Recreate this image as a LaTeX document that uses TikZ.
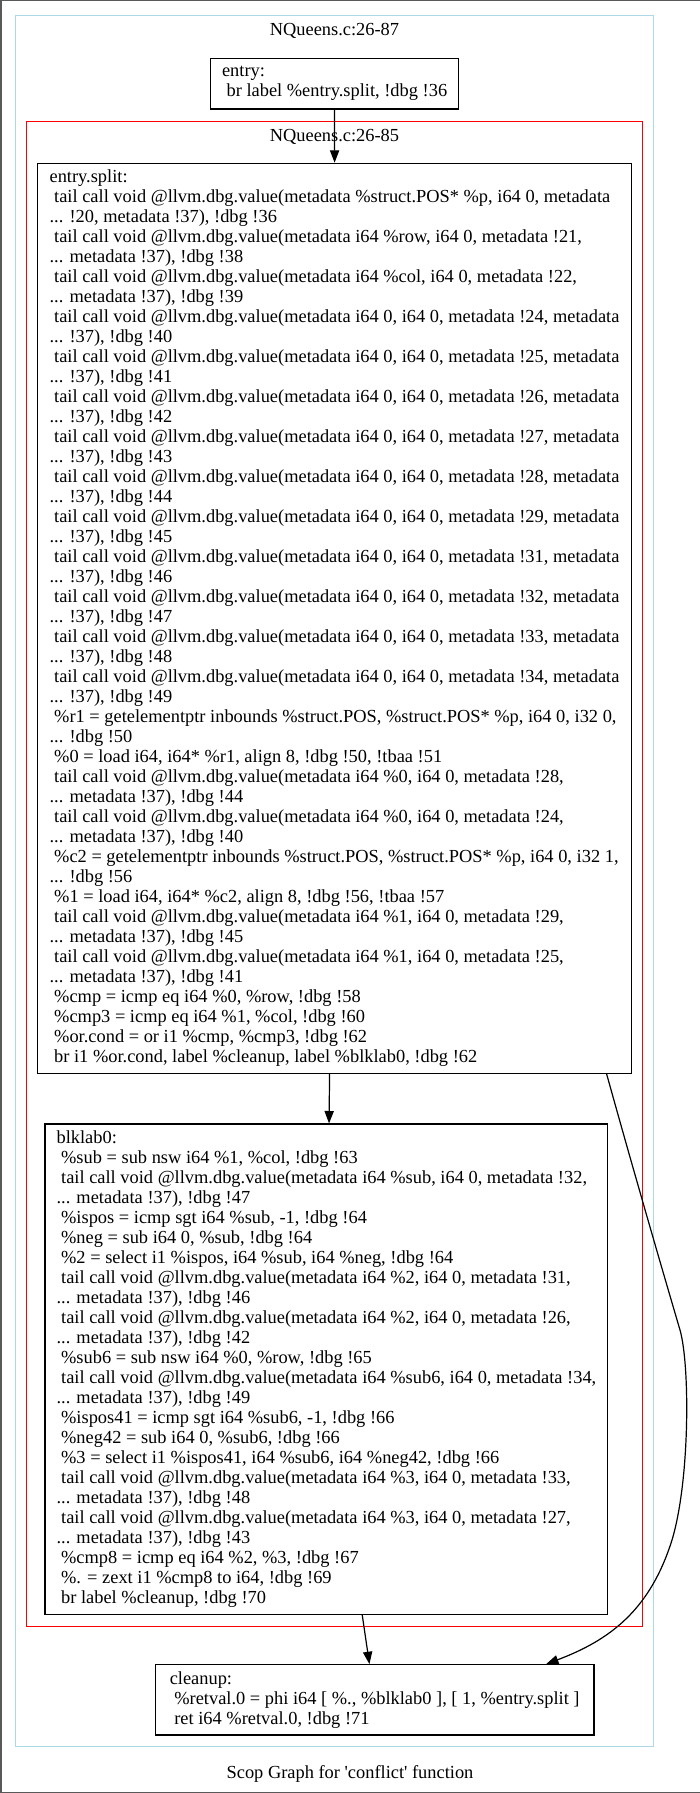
\documentclass[tikz,border=0pt]{standalone}
\usepackage{fontspec}
\setmainfont{Liberation Serif}
\usetikzlibrary{arrows.meta}

\definecolor{clusterblue}{RGB}{173,216,230}
\newcommand{\irfont}{\fontsize{9.2pt}{10pt}\selectfont}
\newcommand{\ind}{\hspace*{2.3pt}}

\begin{document}
\begin{tikzpicture}[x=0.5pt, y=-0.5pt,
	blockbox/.style={draw, line width=0.6pt, align=left, inner sep=0pt, font=\irfont,
		execute at begin node=\rule{0pt}{8pt}, execute at end node=\rule[-2pt]{0pt}{2pt}},
	flowarrow/.style={line width=0.6pt, -{Triangle[length=6.2pt, width=4.6pt]}},
	clustertitle/.style={font=\irfont, anchor=base, inner sep=0pt}]
	
	\useasboundingbox (0,0) rectangle (700,1793);
	\draw[black!65, line width=0.75pt] (705,0.75) -- (0.75,0.75) -- (0.75,1792.25) -- (705,1792.25);
	
	% clusters
	\draw[clusterblue, line width=0.5pt] (15.7,15.7) rectangle (653.3,1746);
	\draw[red, line width=0.5pt] (26.3,121.3) rectangle (642.7,1626);
	\node[clustertitle] (t87) at (334.5,36) {NQueens.c:26-87};
	\node[clustertitle] (t85) at (334.5,141.7) {NQueens.c:26-85};
	
	\node[blockbox, minimum width=124.1pt, minimum height=25.35pt] (entry) at (334.6,83.65) {entry:\\
		\ind br label \%entry.split, !dbg !36};
	
	\node[blockbox, minimum width=296.8pt, minimum height=455pt] (split) at (334.5,618.3) {entry.split:\\
		\ind tail call void @llvm.dbg.value(metadata \%struct.POS* \%p, i64 0, metadata\\
		... !20, metadata !37), !dbg !36\\
		\ind tail call void @llvm.dbg.value(metadata i64 \%row, i64 0, metadata !21,\\
		... metadata !37), !dbg !38\\
		\ind tail call void @llvm.dbg.value(metadata i64 \%col, i64 0, metadata !22,\\
		... metadata !37), !dbg !39\\
		\ind tail call void @llvm.dbg.value(metadata i64 0, i64 0, metadata !24, metadata\\
		... !37), !dbg !40\\
		\ind tail call void @llvm.dbg.value(metadata i64 0, i64 0, metadata !25, metadata\\
		... !37), !dbg !41\\
		\ind tail call void @llvm.dbg.value(metadata i64 0, i64 0, metadata !26, metadata\\
		... !37), !dbg !42\\
		\ind tail call void @llvm.dbg.value(metadata i64 0, i64 0, metadata !27, metadata\\
		... !37), !dbg !43\\
		\ind tail call void @llvm.dbg.value(metadata i64 0, i64 0, metadata !28, metadata\\
		... !37), !dbg !44\\
		\ind tail call void @llvm.dbg.value(metadata i64 0, i64 0, metadata !29, metadata\\
		... !37), !dbg !45\\
		\ind tail call void @llvm.dbg.value(metadata i64 0, i64 0, metadata !31, metadata\\
		... !37), !dbg !46\\
		\ind tail call void @llvm.dbg.value(metadata i64 0, i64 0, metadata !32, metadata\\
		... !37), !dbg !47\\
		\ind tail call void @llvm.dbg.value(metadata i64 0, i64 0, metadata !33, metadata\\
		... !37), !dbg !48\\
		\ind tail call void @llvm.dbg.value(metadata i64 0, i64 0, metadata !34, metadata\\
		... !37), !dbg !49\\
		\ind \%r1 = getelementptr inbounds \%struct.POS, \%struct.POS* \%p, i64 0, i32 0,\\
		... !dbg !50\\
		\ind \%0 = load i64, i64* \%r1, align 8, !dbg !50, !tbaa !51\\
		\ind tail call void @llvm.dbg.value(metadata i64 \%0, i64 0, metadata !28,\\
		... metadata !37), !dbg !44\\
		\ind tail call void @llvm.dbg.value(metadata i64 \%0, i64 0, metadata !24,\\
		... metadata !37), !dbg !40\\
		\ind \%c2 = getelementptr inbounds \%struct.POS, \%struct.POS* \%p, i64 0, i32 1,\\
		... !dbg !56\\
		\ind \%1 = load i64, i64* \%c2, align 8, !dbg !56, !tbaa !57\\
		\ind tail call void @llvm.dbg.value(metadata i64 \%1, i64 0, metadata !29,\\
		... metadata !37), !dbg !45\\
		\ind tail call void @llvm.dbg.value(metadata i64 \%1, i64 0, metadata !25,\\
		... metadata !37), !dbg !41\\
		\ind \%cmp = icmp eq i64 \%0, \%row, !dbg !58\\
		\ind \%cmp3 = icmp eq i64 \%1, \%col, !dbg !60\\
		\ind \%or.cond = or i1 \%cmp, \%cmp3, !dbg !62\\
		\ind br i1 \%or.cond, label \%cleanup, label \%blklab0, !dbg !62};
	
	\node[blockbox, minimum width=281.4pt, minimum height=245.15pt] (blk) at (326.4,1369.15) {blklab0:\\
		\ind \%sub = sub nsw i64 \%1, \%col, !dbg !63\\
		\ind tail call void @llvm.dbg.value(metadata i64 \%sub, i64 0, metadata !32,\\
		... metadata !37), !dbg !47\\
		\ind \%ispos = icmp sgt i64 \%sub, -1, !dbg !64\\
		\ind \%neg = sub i64 0, \%sub, !dbg !64\\
		\ind \%2 = select i1 \%ispos, i64 \%sub, i64 \%neg, !dbg !64\\
		\ind tail call void @llvm.dbg.value(metadata i64 \%2, i64 0, metadata !31,\\
		... metadata !37), !dbg !46\\
		\ind tail call void @llvm.dbg.value(metadata i64 \%2, i64 0, metadata !26,\\
		... metadata !37), !dbg !42\\
		\ind \%sub6 = sub nsw i64 \%0, \%row, !dbg !65\\
		\ind tail call void @llvm.dbg.value(metadata i64 \%sub6, i64 0, metadata !34,\\
		... metadata !37), !dbg !49\\
		\ind \%ispos41 = icmp sgt i64 \%sub6, -1, !dbg !66\\
		\ind \%neg42 = sub i64 0, \%sub6, !dbg !66\\
		\ind \%3 = select i1 \%ispos41, i64 \%sub6, i64 \%neg42, !dbg !66\\
		\ind tail call void @llvm.dbg.value(metadata i64 \%3, i64 0, metadata !33,\\
		... metadata !37), !dbg !48\\
		\ind tail call void @llvm.dbg.value(metadata i64 \%3, i64 0, metadata !27,\\
		... metadata !37), !dbg !43\\
		\ind \%cmp8 = icmp eq i64 \%2, \%3, !dbg !67\\
		\ind \%. = zext i1 \%cmp8 to i64, !dbg !69\\
		\ind br label \%cleanup, !dbg !70};
	
	\node[blockbox, minimum width=219.35pt, minimum height=35.15pt] (clean) at (374.65,1699.85) {cleanup:\\
		\ind \%retval.0 = phi i64 [ \%., \%blklab0 ], [ 1, \%entry.split ]\\
		\ind ret i64 \%retval.0, !dbg !71};
	
	\draw[flowarrow] (entry) -- (split);
	\draw[flowarrow] (split) -- (blk);
	\draw[flowarrow] (blk) -- (clean);
	\draw[flowarrow] ([xshift=-12.65pt]split.south east) .. controls (630,1158) and (655,1245) .. (680,1330)
		.. controls (690,1365) and (690,1480) .. (672,1540)
		.. controls (650,1610) and (610,1640) .. ([xshift=-24.25pt]clean.north east);
	
	\node[clustertitle] (caption) at (350,1778) {Scop Graph for \textquotesingle conflict\textquotesingle\ function};
	
\end{tikzpicture}
\end{document}
